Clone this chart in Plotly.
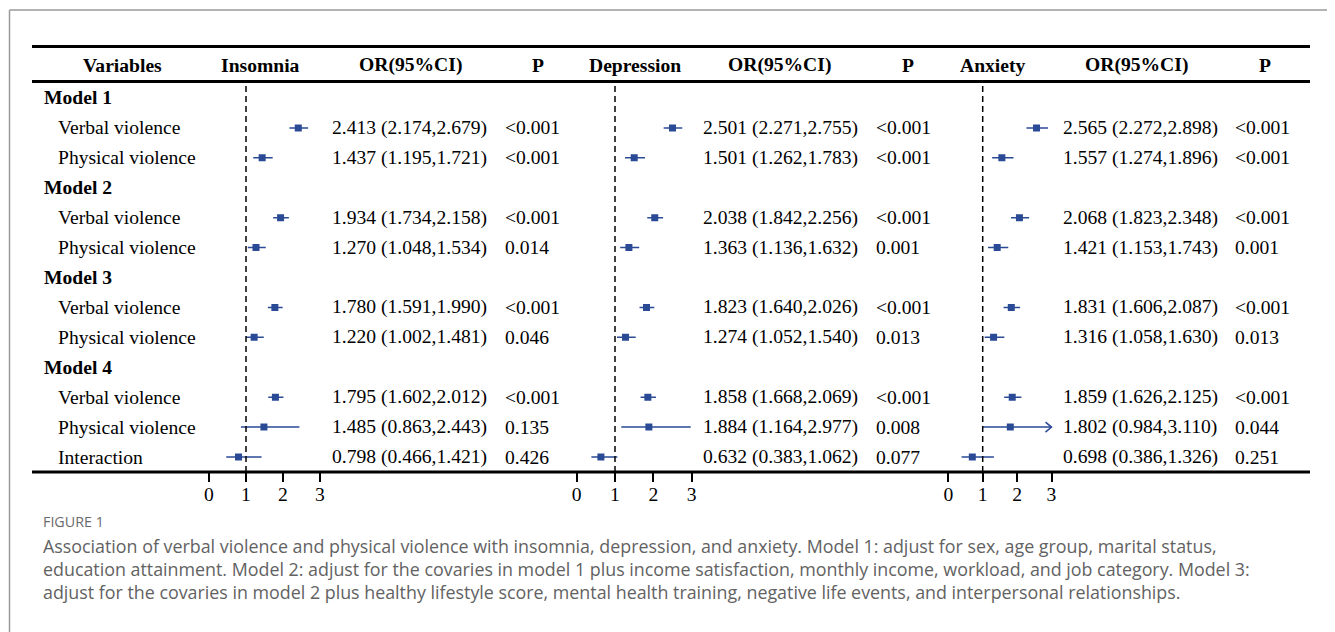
import plotly.graph_objects as go

W, H = 1335, 632

# ---------------- data ----------------
row_labels = ["Model 1", "Verbal violence", "Physical violence",
              "Model 2", "Verbal violence", "Physical violence",
              "Model 3", "Verbal violence", "Physical violence",
              "Model 4", "Verbal violence", "Physical violence", "Interaction"]
row_is_header = [True, False, False, True, False, False, True, False, False,
                 True, False, False, False]
data_rows = [1, 2, 4, 5, 7, 8, 10, 11, 12]

outcomes = ["Insomnia", "Depression", "Anxiety"]

insomnia_or = [2.413, 1.437, 1.934, 1.270, 1.780, 1.220, 1.795, 1.485, 0.798]
insomnia_lo = [2.174, 1.195, 1.734, 1.048, 1.591, 1.002, 1.602, 0.863, 0.466]
insomnia_hi = [2.679, 1.721, 2.158, 1.534, 1.990, 1.481, 2.012, 2.443, 1.421]
insomnia_p = ["<0.001", "<0.001", "<0.001", "0.014", "<0.001", "0.046",
              "<0.001", "0.135", "0.426"]

depression_or = [2.501, 1.501, 2.038, 1.363, 1.823, 1.274, 1.858, 1.884, 0.632]
depression_lo = [2.271, 1.262, 1.842, 1.136, 1.640, 1.052, 1.668, 1.164, 0.383]
depression_hi = [2.755, 1.783, 2.256, 1.632, 2.026, 1.540, 2.069, 2.977, 1.062]
depression_p = ["<0.001", "<0.001", "<0.001", "0.001", "<0.001", "0.013",
                "<0.001", "0.008", "0.077"]

anxiety_or = [2.565, 1.557, 2.068, 1.421, 1.831, 1.316, 1.859, 1.802, 0.698]
anxiety_lo = [2.272, 1.274, 1.823, 1.153, 1.606, 1.058, 1.626, 0.984, 0.386]
anxiety_hi = [2.898, 1.896, 2.348, 1.743, 2.087, 1.630, 2.125, 3.110, 1.326]
anxiety_p = ["<0.001", "<0.001", "<0.001", "0.001", "<0.001", "0.013",
             "<0.001", "0.044", "0.251"]

tick_vals = [0, 1, 2, 3]
x_clip = 3.0

headers = ["Variables", "Insomnia", "OR(95%CI)", "P",
           "Depression", "OR(95%CI)", "P",
           "Anxiety", "OR(95%CI)", "P"]

caption_title = "FIGURE 1"
caption_lines = [
    "Association of verbal violence and physical violence with insomnia, depression, and anxiety. Model 1: adjust for sex, age group, marital status,",
    "education attainment. Model 2: adjust for the covaries in model 1 plus income satisfaction, monthly income, workload, and job category. Model 3:",
    "adjust for the covaries in model 2 plus healthy lifestyle score, mental health training, negative life events, and interpersonal relationships.",
]

# ---------------- layout helpers ----------------
OFF = 8  # page body margin


def px(x):
    return (x - OFF) / W


def py(y):
    return 1 - (y - OFF) / H


SERIF = "Liberation Serif"
BLUE = "#2a4a96"
FS = 19.6

panels = [
    dict(orv=insomnia_or, lo=insomnia_lo, hi=insomnia_hi, p=insomnia_p,
         zero=209.0, unit=37.0, or_x=330, p_x=503),
    dict(orv=depression_or, lo=depression_lo, hi=depression_hi, p=depression_p,
         zero=576.7, unit=38.3, or_x=701, p_x=874),
    dict(orv=anxiety_or, lo=anxiety_lo, hi=anxiety_hi, p=anxiety_p,
         zero=948.3, unit=34.4, or_x=1061, p_x=1233),
]
xr = [-0.5, 3.5]

row0_y, row_step = 98.0, 29.92
y_top_px, y_bot_px = 85.0, 472.0
y_range = [(y_bot_px - row0_y) / row_step, (y_top_px - row0_y) / row_step]

fig = go.Figure()
annotations = []
shapes = []

for k, pnl in enumerate(panels):
    xname = "x" if k == 0 else f"x{k+1}"
    axname = "xaxis" if k == 0 else f"xaxis{k+1}"
    d0 = pnl["zero"] + xr[0] * pnl["unit"]
    d1 = pnl["zero"] + xr[1] * pnl["unit"]
    fig.update_layout(**{axname: dict(
        domain=[px(d0), px(d1)], range=xr, anchor="y",
        tickvals=tick_vals, ticks="outside", ticklen=9, tickwidth=1.5,
        tickcolor="black", showgrid=False, zeroline=False, showline=False,
        ticklabelstandoff=-5,
        tickfont=dict(family=SERIF, size=FS, color="black"), fixedrange=True)})

    hi_c = [min(h, x_clip) for h in pnl["hi"]]
    fig.add_trace(go.Scatter(
        x=pnl["orv"], y=data_rows, xaxis=xname, yaxis="y", mode="markers",
        marker=dict(symbol="square", size=7, color=BLUE),
        error_x=dict(type="data", symmetric=False,
                     array=[h - o for h, o in zip(hi_c, pnl["orv"])],
                     arrayminus=[o - l for o, l in zip(pnl["orv"], pnl["lo"])],
                     width=0, thickness=1.5, color=BLUE),
        showlegend=False, hoverinfo="skip"))

    # arrows where CI exceeds clip
    for r, h in zip(data_rows, pnl["hi"]):
        if h > x_clip:
            dx = 6 / pnl["unit"]
            dy = 5 / row_step
            fig.add_trace(go.Scatter(
                x=[x_clip - dx, x_clip, x_clip - dx], y=[r - dy, r, r + dy],
                xaxis=xname, yaxis="y", mode="lines",
                line=dict(color=BLUE, width=1.5), showlegend=False,
                hoverinfo="skip"))

    # reference line at OR = 1
    shapes.append(dict(type="line", xref=xname, yref="y domain", x0=1, x1=1,
                       y0=0, y1=1, line=dict(color="black", width=1.5,
                                             dash="6px,4px")))

    for r, o, l, h, p in zip(data_rows, pnl["orv"], pnl["lo"], pnl["hi"], pnl["p"]):
        annotations.append(dict(xref="paper", yref="y", x=px(pnl["or_x"]), y=r,
                                xanchor="left", yanchor="middle", showarrow=False,
                                text=f"{o:.3f} ({l:.3f},{h:.3f})",
                                font=dict(family=SERIF, size=FS, color="black")))
        annotations.append(dict(xref="paper", yref="y", x=px(pnl["p_x"]), y=r,
                                xanchor="left", yanchor="middle", showarrow=False,
                                text=p.replace("<", "&lt;"),
                                font=dict(family=SERIF, size=FS, color="black")))

# row labels
for i, (lab, hdr) in enumerate(zip(row_labels, row_is_header)):
    annotations.append(dict(xref="paper", yref="y", x=px(42 if hdr else 56), y=i,
                            xanchor="left", yanchor="middle", showarrow=False,
                            text=f"<b>{lab}</b>" if hdr else lab,
                            font=dict(family=SERIF, size=FS, color="black")))

# headers
header_x = [122, 260, 410, 538, 635, 779, 908, 993, 1136, 1265]
for hx, ht in zip(header_x, headers):
    annotations.append(dict(xref="paper", yref="paper", x=px(hx), y=py(65),
                            xanchor="center", yanchor="middle", showarrow=False,
                            text=f"<b>{ht}</b>",
                            font=dict(family=SERIF, size=FS, color="black")))

# table rules
for yy in [46.5, 81.5, 472]:
    shapes.append(dict(type="line", xref="paper", yref="paper",
                       x0=px(32), x1=px(1310), y0=py(yy), y1=py(yy),
                       line=dict(color="black", width=3)))

# outer frame
frame_col = "#9a9a9a"
shapes.append(dict(type="line", xref="paper", yref="paper", x0=px(9.5), x1=px(9.5),
                   y0=py(10), y1=py(640), line=dict(color=frame_col, width=1.5)))
shapes.append(dict(type="line", xref="paper", yref="paper", x0=px(9.5), x1=px(1330.5),
                   y0=py(10), y1=py(10), line=dict(color=frame_col, width=1.5)))
shapes.append(dict(type="line", xref="paper", yref="paper", x0=px(1330.5), x1=px(1330.5),
                   y0=py(10), y1=py(640), line=dict(color=frame_col, width=1.5)))

# caption
annotations.append(dict(xref="paper", yref="paper", x=px(41), y=py(521),
                        xanchor="left", yanchor="middle", showarrow=False,
                        text=caption_title,
                        font=dict(family="Open Sans", size=14.3, color="#6a6a6a")))
for j, line in enumerate(caption_lines):
    annotations.append(dict(xref="paper", yref="paper", x=px(41), y=py(546 + 23 * j),
                            xanchor="left", yanchor="middle", showarrow=False,
                            text=line,
                            font=dict(family="Open Sans", size=17.85, color="#626262")))

fig.update_layout(
    width=W, height=H, margin=dict(l=0, r=0, t=0, b=0),
    paper_bgcolor="white", plot_bgcolor="white",
    yaxis=dict(domain=[py(y_bot_px), py(y_top_px)], range=y_range, visible=False,
               fixedrange=True),
    annotations=annotations, shapes=shapes, showlegend=False,
)

fig.write_html("out.html", config={"displayModeBar": False})
